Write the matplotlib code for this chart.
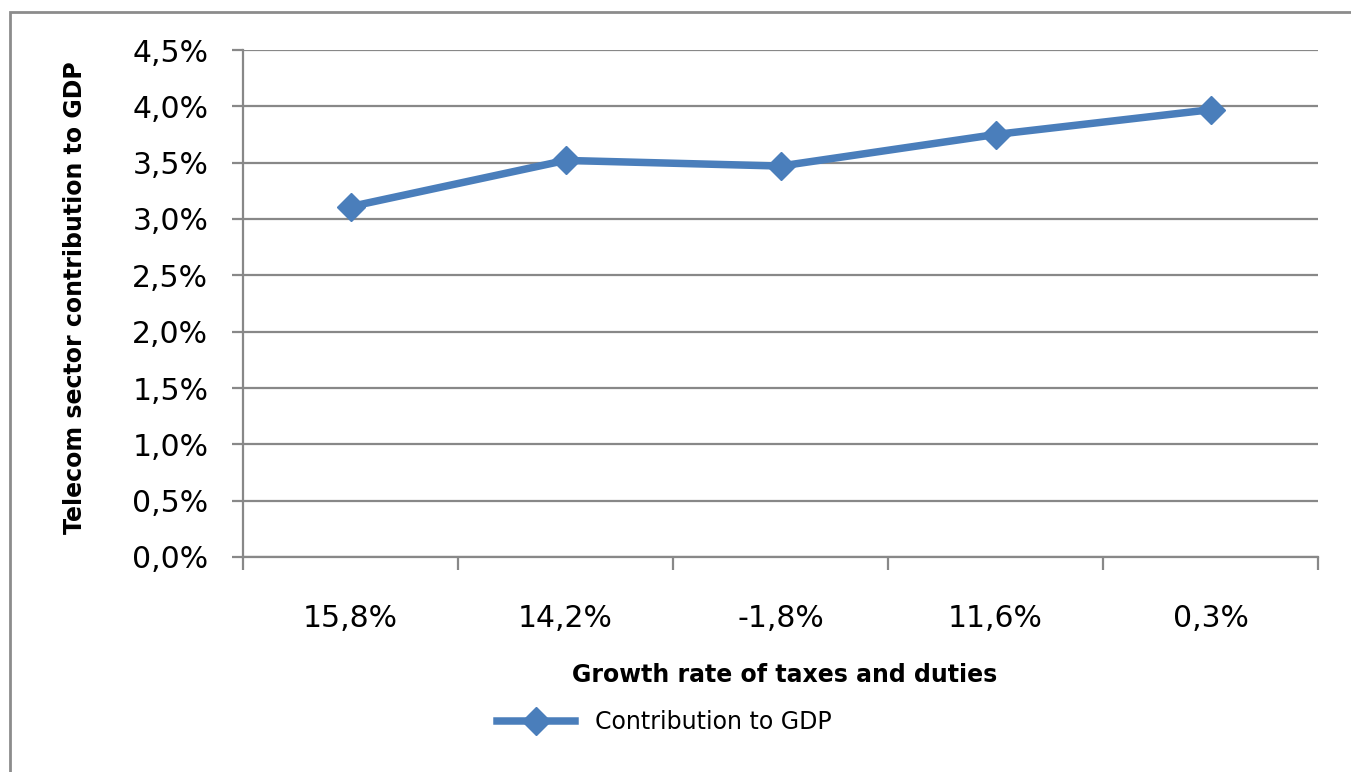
import numpy as np
import matplotlib
matplotlib.use('Agg')
import matplotlib.pyplot as plt
from matplotlib.patches import Rectangle
from matplotlib.ticker import FixedLocator, FuncFormatter

growth_labels = ["15,8%", "14,2%", "-1,8%", "11,6%", "0,3%"]
contribution = [3.11, 3.52, 3.47, 3.75, 3.97]  # percent of GDP
y_ticks = [0.0, 0.5, 1.0, 1.5, 2.0, 2.5, 3.0, 3.5, 4.0, 4.5]

blue = "#4a7ebb"
grid_gray = "#888888"

W, H = 1351, 772
fig = plt.figure(figsize=(W / 100, H / 100), dpi=100)
fig.patch.set_facecolor("white")


def px(x, y):
    # pixel position (from top-left) -> figure fraction
    return (x / W, 1 - y / H)


# chart frame (runs off the right and bottom edges)
fig.add_artist(Rectangle(px(10, 790), (1400 - 10) / W, (790 - 12) / H, transform=fig.transFigure,
                         facecolor="none", edgecolor="#8c8c8c", linewidth=2.0, zorder=1))

ax = fig.add_axes([243 / W, 1 - 557 / H, (1318 - 243) / W, (557 - 50) / H])
ax.set_facecolor("none")

x = np.arange(len(growth_labels))
ax.plot(x, contribution, color=blue, linewidth=5.4, marker="D", markersize=14,
        markeredgecolor=blue, markerfacecolor=blue,
        label="Contribution to GDP", zorder=3, clip_on=False)

ax.set_xlim(-0.5, len(growth_labels) - 0.5)
ax.set_ylim(0, 4.5)

ax.set_yticks(y_ticks)
ax.yaxis.set_major_formatter(FuncFormatter(lambda v, p: ("%.1f%%" % v).replace(".", ",")))
ax.grid(axis="y", color=grid_gray, linewidth=1.6)
ax.set_axisbelow(True)

ax.set_xticks(x)
ax.set_xticklabels(growth_labels)
ax.xaxis.set_minor_locator(FixedLocator(np.arange(-0.5, len(growth_labels), 1.0)))
ax.tick_params(axis="x", which="major", length=0, pad=34, labelsize=21.5)
ax.tick_params(axis="x", which="minor", length=9, width=1.6, color=grid_gray, direction="out")
ax.tick_params(axis="y", length=8, width=1.6, color=grid_gray, pad=17, labelsize=21.5)

for side in ["top", "right"]:
    ax.spines[side].set_visible(False)
for side in ["left", "bottom"]:
    ax.spines[side].set_color(grid_gray)
    ax.spines[side].set_linewidth(1.6)

fig.text(785 / W, 1 - 675 / H, "Growth rate of taxes and duties", ha="center", va="center",
         fontsize=17, fontweight="bold")
fig.text(75 / W, 1 - 298 / H, "Telecom sector contribution to GDP", ha="center", va="center",
         rotation=90, fontsize=17, fontweight="bold")

fig.legend(loc="center", bbox_to_anchor=(664 / W, 1 - 722 / H), frameon=False, fontsize=17,
           handlelength=3.3, handletextpad=0.85)

fig.savefig("out.png", dpi=100)
